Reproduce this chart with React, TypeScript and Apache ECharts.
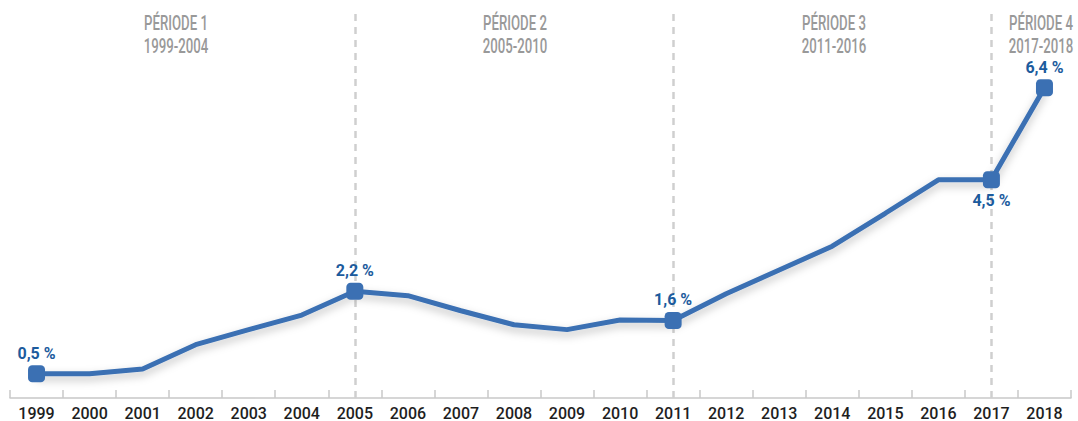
import React, { useEffect, useRef } from "react";
import * as echarts from "echarts";

const years = ["1999","2000","2001","2002","2003","2004","2005","2006","2007","2008","2009","2010","2011","2012","2013","2014","2015","2016","2017","2018"];
const values = [0.5, 0.5, 0.6, 1.1, 1.41, 1.71, 2.2, 2.11, 1.8, 1.51, 1.41, 1.61, 1.6, 2.15, 2.64, 3.13, 3.81, 4.5, 4.5, 6.4];
const labelledYears = ["1999", "2005", "2011", "2017", "2018"];
const belowYears = ["2017"];
const dividerYears = ["2005", "2011", "2017"];
const periodLines1 = ["PÉRIODE 1", "PÉRIODE 2", "PÉRIODE 3", "PÉRIODE 4"];
const periodLines2 = ["1999-2004", "2005-2010", "2011-2016", "2017-2018"];
const periodCenters = [176, 515, 834, 1041];

const FONT = "Roboto, 'Noto Sans', sans-serif";
const BLUE = "#3b70b3";
const LABEL_BLUE = "#1c5b9d";

export default function App() {
  const ref = useRef<HTMLDivElement>(null);
  useEffect(() => {
    const chart = echarts.init(ref.current!, undefined, { renderer: "svg" });
    const data = values.map((v, i) => {
      const y = years[i];
      const show = labelledYears.includes(y);
      return {
        value: v,
        symbol: show ? "roundRect" : "none",
        symbolSize: show ? 17 : 0,
        label: {
          show,
          position: belowYears.includes(y) ? "bottom" : "top",
          distance: 4,
        },
      };
    });
    chart.setOption({
      animation: false,
      textStyle: { fontFamily: FONT },
      grid: { left: 10, right: 7, top: 13, bottom: 23 },
      xAxis: {
        type: "category",
        data: years,
        boundaryGap: true,
        axisLine: { lineStyle: { color: "#c8c8c8", width: 1.5 } },
        axisTick: { show: true, inside: true, length: 8, alignWithLabel: false, lineStyle: { color: "#c8c8c8", width: 1.5 } },
        axisLabel: { color: "#1e1e1e", fontSize: 16, fontWeight: 500, fontFamily: FONT, margin: 7 },
      },
      yAxis: {
        type: "value",
        min: 0,
        max: 7.94,
        show: false,
        splitLine: { show: false },
      },
      series: [
        {
          type: "line",
          data,
          lineStyle: {
            color: BLUE,
            width: 5,
            shadowColor: "rgba(0,0,0,0.25)",
            shadowBlur: 8,
            shadowOffsetY: 4,
          },
          itemStyle: { color: BLUE },
          label: {
            color: LABEL_BLUE,
            fontWeight: "bold",
            fontSize: 16,
            fontFamily: FONT,
            formatter: (p: any) => String(p.value).replace(".", ",") + " %",
          },
          markLine: {
            silent: true,
            symbol: "none",
            label: { show: false },
            lineStyle: { color: "#cfcfcf", type: [7, 6], width: 2.5 },
            data: dividerYears.map((y) => ({ xAxis: y })),
            z: 1,
          },
          z: 3,
        },
      ],
      graphic: periodCenters.map((x, i) => ({
        type: "text",
        x,
        y: 11,
        scaleX: 0.66,
        style: {
          text: periodLines1[i] + "\n" + periodLines2[i],
          x: 0,
          y: 0,
          textAlign: "center",
          textVerticalAlign: "top",
          fill: "#999999",
          fontSize: 20,
          fontWeight: 500,
          lineHeight: 23,
          fontFamily: FONT,
        },
      })),
    });
    return () => chart.dispose();
  }, []);
  return <div ref={ref} style={{ position: "absolute", left: 0, top: 0, width: 1078, height: 421 }} />;
}
